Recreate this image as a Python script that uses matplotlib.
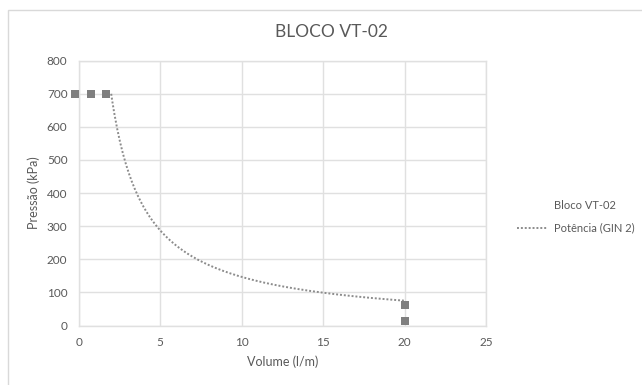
import matplotlib
matplotlib.use("Agg")
import matplotlib.pyplot as plt
from matplotlib.lines import Line2D
from matplotlib.patches import Rectangle
import numpy as np

plt.rcParams['font.family'] = ['Lato', 'DejaVu Sans']

# Data
volume = [-0.2, 0.75, 1.7, 20, 20]
pressao = [700, 700, 700, 63, 14]
# Power trendline (Potência) y = a * x^b over x in [2, 20]
trend_a = 1371.0
trend_b = -0.97
trend_x_min, trend_x_max = 2.0, 20.0
x_ticks = [0, 5, 10, 15, 20, 25]
y_ticks = [0, 100, 200, 300, 400, 500, 600, 700, 800]

txt = '#595959'
grid = '#e0e0e0'
mark = '#7f7f7f'

fig = plt.figure(figsize=(6.42, 3.85), dpi=100)
fig.patch.set_facecolor('white')
fig.patches.append(Rectangle((8/642, -0.1), 1.2, 1 - 10/385 + 0.1,
                             transform=fig.transFigure, fill=False,
                             edgecolor='#d9d9d9', linewidth=1))

ax = fig.add_axes([78.6/642, 1 - 325.5/385, (486 - 78.6)/642, (325.5 - 60.7)/385])
ax.set_xlim(0, 25)
ax.set_ylim(0, 800)
ax.set_xticks(x_ticks)
ax.set_yticks(y_ticks)
ax.grid(True, color=grid, linewidth=1)
ax.set_axisbelow(True)
for s in ax.spines.values():
    s.set_color(grid)
    s.set_linewidth(1)
ax.tick_params(length=0, colors=txt, labelsize=8.5, pad=8)

xs = np.linspace(trend_x_min, trend_x_max, 200)
ax.plot(xs, trend_a * xs ** trend_b, linestyle=(0, (1, 1)), color='#8c8c8c',
        linewidth=1.4, clip_on=False)
ax.scatter(volume, pressao, marker='s', s=36, color=mark, clip_on=False, zorder=3,
           linewidths=0)

ax.set_xlabel('Volume (l/m)', color=txt, fontsize=9, labelpad=6)
ax.set_ylabel('Pressão (kPa)', color=txt, fontsize=9, labelpad=5)
fig.text(331/642, 1 - 32/385, 'BLOCO VT-02', color=txt, fontsize=12.5,
         ha='center', va='center')

handles = [Line2D([], [], linestyle='none'),
           Line2D([], [], linestyle=(0, (1, 1)), color='#8c8c8c', linewidth=1.4)]
leg = fig.legend(handles, ['Bloco VT-02', 'Potência (GIN 2)'],
                 loc='center left', bbox_to_anchor=(507/642, 1 - 217/385),
                 frameon=False, fontsize=8, handlelength=2.8, handletextpad=0.5,
                 labelspacing=1.0)
for t in leg.get_texts():
    t.set_color(txt)

fig.savefig('out.png', dpi=100, facecolor='white')
